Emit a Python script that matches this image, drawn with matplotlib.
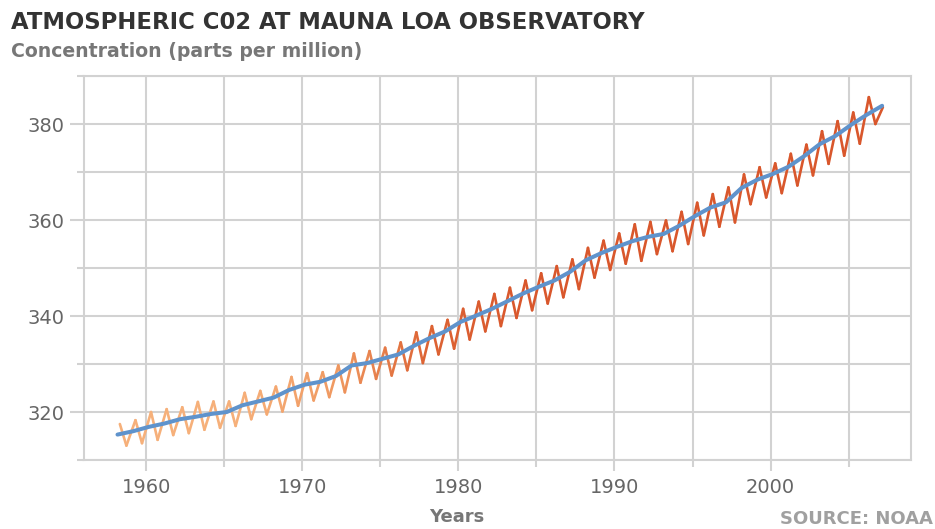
import numpy as np
import matplotlib
matplotlib.use('Agg')
from matplotlib import pyplot as plt
from matplotlib.collections import LineCollection
from matplotlib.colors import LinearSegmentedColormap
from matplotlib.ticker import MultipleLocator

# annual mean CO2 (ppm), 1958-2007
years = np.arange(1958, 2008)
annual_ppm = [315.3, 316.0, 316.9, 317.6, 318.5, 319.0, 319.6, 320.0, 321.4, 322.2,
              323.0, 324.6, 325.7, 326.3, 327.5, 329.7, 330.2, 331.1, 332.0, 333.8,
              335.4, 336.8, 338.8, 340.1, 341.5, 343.1, 344.7, 346.1, 347.4, 349.2,
              351.6, 353.1, 354.4, 355.6, 356.5, 357.1, 358.8, 360.8, 362.6, 363.7,
              366.7, 368.4, 369.6, 371.1, 373.3, 375.8, 377.5, 379.8, 381.9, 383.8]

# seasonal maximum (spring) and minimum (autumn), 1958-2006
peak_ppm = [317.5, 318.3, 320.0, 320.6, 321.0, 322.1, 322.2, 322.2, 324.0, 324.4,
            325.3, 327.3, 328.1, 328.3, 329.7, 332.2, 332.7, 333.4, 334.5, 336.6,
            337.9, 339.2, 341.5, 343.0, 344.6, 345.9, 347.4, 348.9, 350.4, 351.8,
            354.2, 355.7, 357.2, 359.1, 359.6, 359.9, 361.7, 363.6, 365.4, 366.8,
            369.5, 371.0, 371.8, 373.8, 375.7, 378.5, 380.6, 382.4, 385.6]
trough_ppm = [313.0, 313.5, 314.2, 315.2, 315.6, 316.3, 316.7, 317.1, 318.5, 319.5,
              320.1, 321.3, 322.4, 323.1, 324.1, 326.1, 326.9, 327.6, 328.7, 330.2,
              332.0, 333.2, 335.1, 336.8, 337.9, 339.6, 341.2, 342.6, 343.9, 345.6,
              348.0, 349.6, 350.9, 351.5, 352.9, 353.5, 355.0, 356.8, 358.6, 359.5,
              363.3, 364.7, 365.6, 367.2, 369.3, 371.7, 373.4, 375.9, 380.0]
last_time, last_ppm = 2007.2, 383.5

season_years = years[:len(peak_ppm)]
t = np.ravel(np.column_stack([season_years + 0.3, season_years + 0.72]))
v = np.ravel(np.column_stack([peak_ppm, trough_ppm]))
t = np.append(t, last_time)
v = np.append(v, last_ppm)

fig = plt.figure(figsize=(9.35, 5.29), dpi=100)
ax = fig.add_axes([0.0898, 0.1304, 0.8845, 0.7259])

grid_c = '#d2d2d2'

# seasonal line, light orange early, darker later
pts = np.column_stack([t, v]).reshape(-1, 1, 2)
segs = np.concatenate([pts[:-1], pts[1:]], axis=1)
cmap = LinearSegmentedColormap.from_list('co2', ['#f6b07a', '#f09a62', '#dd6434', '#d9572c'])
lc = LineCollection(segs, cmap=cmap, norm=plt.Normalize(1966, 1984), linewidth=1.9,
                    zorder=3, capstyle='round', joinstyle='round')
lc.set_array((t[:-1] + t[1:]) / 2)
ax.add_collection(lc)

ax.plot(years + 0.15, annual_ppm, color='#5f93cc', linewidth=2.9, zorder=4,
        solid_capstyle='round', solid_joinstyle='round')

ax.set_xlim(1956, 2009)
ax.set_ylim(310, 390)
ax.xaxis.set_major_locator(MultipleLocator(10))
ax.xaxis.set_minor_locator(MultipleLocator(5))
ax.yaxis.set_major_locator(MultipleLocator(20))
ax.yaxis.set_minor_locator(MultipleLocator(10))
ax.grid(True, which='both', color=grid_c, linewidth=1.5, zorder=1)
for s in ax.spines.values():
    s.set_color(grid_c)
    s.set_linewidth(1.5)
ax.tick_params(which='major', color=grid_c, width=1.5, labelcolor='#666666', labelsize=14)
ax.tick_params(which='minor', length=5, width=1.5, color=grid_c)
ax.tick_params(axis='y', which='major', length=10, pad=4)
ax.tick_params(axis='x', which='major', length=8, pad=5)

fig.text(0.012, 0.958, 'ATMOSPHERIC C02 AT MAUNA LOA OBSERVATORY', fontsize=16.4,
         fontweight='bold', color='#333333', va='center')
fig.text(0.012, 0.903, 'Concentration (parts per million)', fontsize=13.6,
         fontweight='bold', color='#777777', va='center')
fig.text(0.489, 0.023, 'Years', fontsize=13, fontweight='bold', color='#777777',
         ha='center', va='center')
fig.text(0.998, 0.019, 'SOURCE: NOAA', fontsize=13, fontweight='bold', color='#a0a0a0',
         ha='right', va='center')

fig.savefig('out.png', dpi=100, facecolor='white')
